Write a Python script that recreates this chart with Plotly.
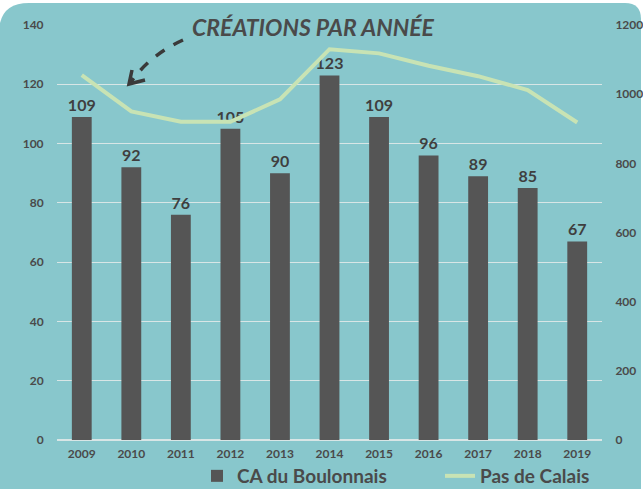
import plotly.graph_objects as go

years = ["2009", "2010", "2011", "2012", "2013", "2014", "2015", "2016", "2017", "2018", "2019"]
ca_boulonnais = [109, 92, 76, 105, 90, 123, 109, 96, 89, 85, 67]
pas_de_calais = [1055, 950, 920, 920, 985, 1130, 1118, 1082, 1052, 1012, 918]
left_ticks = [0, 20, 40, 60, 80, 100, 120, 140]
right_ticks = [0, 200, 400, 600, 800, 1000, 1200]

W, H = 643, 489
L, R, T, B = 57, 41, 25, 49
PW, PH = W - L - R, H - T - B

def px(x):
    return (x - L) / PW

def py(y):
    return (H - B - y) / PH

FONT = "Lato"
TXT = "#4a4a4a"

fig = go.Figure()
fig.add_trace(go.Bar(
    x=years, y=ca_boulonnais, name="CA du Boulonnais",
    marker=dict(color="#555555", line=dict(width=0)),
    text=ca_boulonnais, textposition="outside", cliponaxis=False,
    constraintext="none",
    textfont=dict(family=FONT, size=16, color="#3f3f3f", weight="bold"),
    width=0.4, yaxis="y",
))
fig.add_trace(go.Scatter(
    x=years, y=pas_de_calais, name="Pas de Calais", mode="lines",
    line=dict(color="#C8E3B4", width=4), yaxis="y2",
))

# rounded card background
r1, r2 = 30, 16
x0, x1, y0, y1 = -1, 641, 3, 520
path = (f"M {px(x0)} {py(y1)} L {px(x0)} {py(y0 + r1)} "
        f"Q {px(x0)} {py(y0)} {px(x0 + r1)} {py(y0)} "
        f"L {px(x1 - r2)} {py(y0)} Q {px(x1)} {py(y0)} {px(x1)} {py(y0 + r2)} "
        f"L {px(x1)} {py(y1)} Z")
shapes = [dict(type="path", xref="paper", yref="paper", path=path,
               fillcolor="#88C7CC", line=dict(width=0), layer="below")]
# dashed arrow
shapes.append(dict(type="path", xref="paper", yref="paper",
                   path=f"M {px(183)} {py(40)} Q {px(150)} {py(55)} {px(131)} {py(82)}",
                   line=dict(color="#3a3a3a", width=3.5, dash="dash")))
shapes.append(dict(type="path", xref="paper", yref="paper",
                   path=f"M {px(132)} {py(70)} L {px(129)} {py(84)} L {px(145)} {py(80)}",
                   line=dict(color="#3a3a3a", width=3.5)))

fig.update_layout(
    width=W, height=H,
    margin=dict(l=L, r=R, t=T, b=B, autoexpand=False),
    paper_bgcolor="white", plot_bgcolor="rgba(0,0,0,0)",
    shapes=shapes,
    showlegend=True,
    legend=dict(orientation="h", x=px(197), xanchor="left", y=py(476), yanchor="middle",
                font=dict(family=FONT, size=19, color=TXT, weight="bold"),
                bgcolor="rgba(0,0,0,0)", itemwidth=30, entrywidth=198, tracegroupgap=0),
    bargap=0.6,
    xaxis=dict(tickfont=dict(family=FONT, size=12, color=TXT, weight="bold"),
               showgrid=False, showline=False, ticks="outside", ticklen=3, tickcolor="rgba(0,0,0,0)"),
    yaxis=dict(range=[0, 140], tickvals=left_ticks,
               tickfont=dict(family=FONT, size=12, color=TXT, weight="bold"),
               showgrid=True, gridcolor="#D8E6E6", gridwidth=1,
               zeroline=True, zerolinecolor="#D8E6E6", zerolinewidth=1.5,
               showline=False, ticks="outside", ticklen=10, tickcolor="rgba(0,0,0,0)"),
    yaxis2=dict(range=[0, 1200], tickvals=right_ticks, overlaying="y", side="right",
                tickfont=dict(family=FONT, size=12, color=TXT, weight="bold"),
                showgrid=False, zeroline=False, showline=False,
                ticks="outside", ticklen=10, tickcolor="rgba(0,0,0,0)"),
    annotations=[dict(text="CRÉATIONS PAR ANNÉE", xref="paper", yref="paper",
                      x=px(313), y=py(27), xanchor="center", yanchor="middle",
                      showarrow=False,
                      font=dict(family=FONT, size=23, color="#4a4a4a",
                                style="italic", weight="bold"))],
)

fig.write_html("out.html", config={"displayModeBar": False},
               post_script="document.body.style.margin='0';document.body.style.overflow='hidden';")
